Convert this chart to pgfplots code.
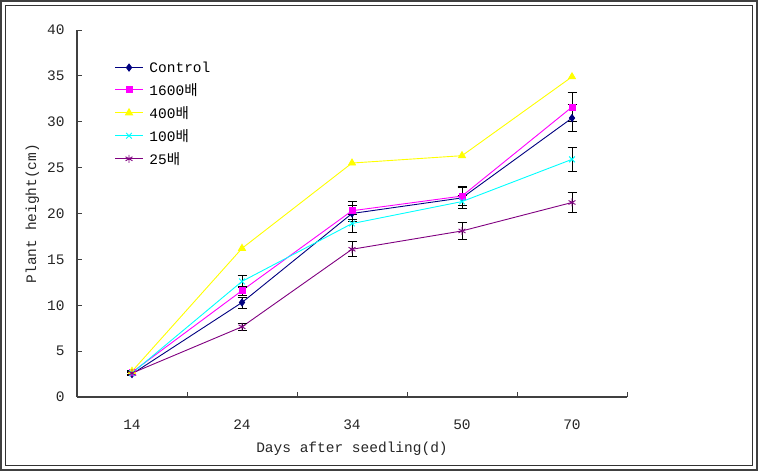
\documentclass[border=0pt]{standalone}
\usepackage{fontspec}
\setmainfont{Liberation Mono}
\newfontfamily\kr{Noto Sans CJK KR}
\usepackage{pgfplots}
\pgfplotsset{compat=1.18}
\definecolor{cNavy}{RGB}{0,0,128}
\definecolor{cMag}{RGB}{255,0,255}
\definecolor{cYel}{RGB}{255,255,0}
\definecolor{cCyan}{RGB}{0,255,255}
\definecolor{cPur}{RGB}{128,0,128}
\definecolor{cAxis}{RGB}{64,64,64}

\pgfplotstableread{
x y e
0 2.5 0.2
1 10.3 0.6
2 20.0 0.85
3 21.7 1.1
4 30.4 1.5
}\tControl
\pgfplotstableread{
x y e
0 2.7 0.2
1 11.6 0.5
2 20.3 1.0
3 21.9 1.0
4 31.6 1.55
}\tSixteen
\pgfplotstableread{
x y e
0 2.8 0
1 16.2 0
2 25.5 0
3 26.3 0
4 34.9 0
}\tFour
\pgfplotstableread{
x y e
0 2.6 0.2
1 12.6 0.7
2 18.9 1.0
3 21.3 0.7
4 25.9 1.3
}\tHundred
\pgfplotstableread{
x y e
0 2.6 0.2
1 7.65 0.35
2 16.1 0.8
3 18.1 0.9
4 21.2 1.05
}\tTwentyFive

\begin{document}
\begin{tikzpicture}[x=1pt,y=1pt]
\useasboundingbox (0,0) rectangle (758,471);
\draw[line width=2pt, black!75] (1,1) rectangle (757,470);
\draw[line width=0.8pt, black!80] (5.5,5.5) rectangle (752.5,465.5);
\begin{axis}[
  at={(77pt,74pt)}, anchor=south west,
  scale only axis, width=550pt, height=367pt,
  xmin=-0.5, xmax=4.5, ymin=0, ymax=40,
  axis x line=bottom, axis y line=left,
  axis line style={-, line width=1.2pt, cAxis},
  tick align=inside,
  ytick={0,5,...,40},
  major tick length=5pt, minor tick length=5pt,
  tick style={line width=0.8pt, cAxis},
  xtick={0,1,2,3,4}, xticklabels={14,24,34,50,70},
  major x tick style={draw=none},
  minor xtick={0.5,1.5,2.5,3.5,4.5},
  /pgf/number format/assume math mode=true,
  ticklabel style={font=\fontsize{14.5}{16}\selectfont, text=black!85},
  xticklabel style={yshift=-19pt},
  yticklabel style={xshift=-9pt},
  xlabel={Days after seedling(d)},
  ylabel={Plant height(cm)},
  label style={font=\fontsize{14.5}{16}\selectfont, text=black!85},
  xlabel style={yshift=-6pt},
  ylabel style={yshift=1pt},
  legend style={at={(rel axis cs:0.068,0.92)}, anchor=north west, draw=none, fill=none,
    font=\fontsize{14.5}{16}\selectfont, row sep=5.5pt, inner sep=0pt,
    nodes={inner xsep=6pt}},
  legend cell align=left,
  legend image code/.code={\draw[mark repeat=2, mark phase=2] plot coordinates {(0pt,0pt) (14pt,0pt) (28pt,0pt)};},
  every axis plot/.append style={line width=0.9pt},
  error bars/error bar style={black, line width=0.9pt},
  error bars/error mark options={rotate=90, mark size=4.5pt, black, line width=0.9pt},
]
\addplot[cNavy, mark=diamond*, mark size=3.5pt, mark options={solid, fill=cNavy},
  error bars/.cd, y dir=both, y explicit] table[x=x, y=y, y error=e] {\tControl};
\addlegendentry{Control}
\addplot[cMag, mark=square*, mark size=3pt, mark options={fill=cMag},
  error bars/.cd, y dir=both, y explicit] table[x=x, y=y, y error=e] {\tSixteen};
\addlegendentry{1600{\kr 배}}
\addplot[cYel, mark=triangle*, mark size=4pt, mark options={fill=cYel}] table[x=x, y=y] {\tFour};
\addlegendentry{400{\kr 배}}
\addplot[cCyan, mark=x, mark size=4pt,
  error bars/.cd, y dir=both, y explicit] table[x=x, y=y, y error=e] {\tHundred};
\addlegendentry{100{\kr 배}}
\addplot[cPur, mark=asterisk, mark size=4pt,
  error bars/.cd, y dir=both, y explicit] table[x=x, y=y, y error=e] {\tTwentyFive};
\addlegendentry{25{\kr 배}}
\end{axis}
\end{tikzpicture}
\end{document}
